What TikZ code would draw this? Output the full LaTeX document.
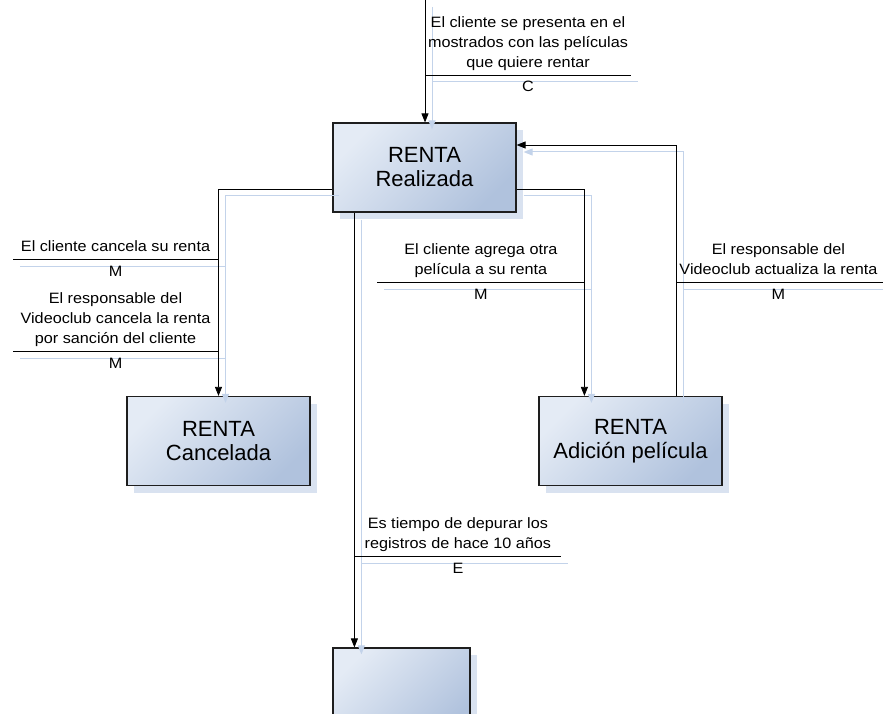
\documentclass[tikz,border=0pt]{standalone}
\usepackage{fontspec}
\setmainfont{Liberation Sans}
\newfontfamily\lblfont[FakeStretch=1.08]{Liberation Sans}
\usetikzlibrary{arrows.meta,calc,shadows}

\definecolor{boxlight}{HTML}{E4EBF5}
\definecolor{boxdark}{HTML}{B0C2DD}
\definecolor{shadowblue}{HTML}{D9E2F0}
\definecolor{shadowline}{HTML}{C3D3EA}
\definecolor{boxedge}{HTML}{1E1E1E}

\tikzset{
  statebox/.style={draw=boxedge, line width=1.2pt, minimum width=183pt,
    minimum height=89pt, inner sep=0pt, top color=boxlight,
    bottom color=boxdark, shading angle=45, align=center,
    font=\fontsize{22}{24}\selectfont,
    general shadow={fill=shadowblue, shadow xshift=7pt, shadow yshift=-7pt}},
  flow/.style={line width=0.8pt, -{Triangle[length=9pt,width=7pt]}},
  flowshadow/.style={draw=shadowline, line width=1pt,
    -{Triangle[length=9pt,width=7pt]}, transform canvas={shift={(7,7)}}},
  bar/.style={line width=0.8pt},
  barshadow/.style={draw=shadowline, line width=1pt,
    transform canvas={shift={(7,7)}}},
  evtext/.style={anchor=south, inner sep=0pt, text depth=0pt, align=center,
    font=\lblfont\fontsize{15}{20}\selectfont},
  evcode/.style={anchor=base, inner sep=0pt,
    font=\lblfont\fontsize{15}{20}\selectfont},
}

\begin{document}
\begin{tikzpicture}[x=1pt,y=-1pt]
  \clip (0,0) rectangle (883,714);
  \fill[white] (0,0) rectangle (883,714);

  % states
  \node[statebox] (R) at (424.5,167.5) {RENTA\\Realizada};
  \node[statebox] (C) at (218.5,441) {RENTA\\Cancelada};
  \node[statebox] (A) at (630.5,441) {RENTA\\Adición película};
  \node[statebox, minimum width=137pt] (B) at (401.5,692.5) {};

  % connector end points and event bars
  \coordinate (in) at (425,0);
  \coordinate (rl) at (R.west |- 0,189);
  \coordinate (rr) at (R.east |- 0,189);
  \coordinate (addin) at ($(A.north west)+(46,0)$);
  \coordinate (upd) at ($(A.north west)+(138,0)$);
  \coordinate (back) at (R.east |- 0,145);
  \coordinate (purge) at ($(R.south west)+(22,0)$);
  \coordinate (purgein) at ($(B.north west)+(22,0)$);

  \coordinate (bt) at (in |- 0,75);
  \coordinate (bl1) at (C.north |- 0,259);
  \coordinate (bl2) at (C.north |- 0,351);
  \coordinate (br1) at (addin |- 0,282);
  \coordinate (br2) at (upd |- 0,282);
  \coordinate (bb) at (purge |- 0,556);

  % shadows of connectors and bars
  \draw[flowshadow] (in) -- (in |- R.north);
  \draw[flowshadow] (rl) -| (C.north);
  \draw[flowshadow] (rr) -| (addin);
  \draw[flowshadow] (upd) |- (back);
  \draw[flowshadow] (purge) -- (purgein);
  \draw[barshadow] (bt) -- ++(206,0);
  \draw[barshadow] (bl1) -- ++(-206,0);
  \draw[barshadow] (bl2) -- ++(-206,0);
  \draw[barshadow] (br1) -- ++(-207,0);
  \draw[barshadow] (br2) -- ++(210,0);
  \draw[barshadow] (bb) -- ++(207,0);

  % connectors
  \draw[flow] (in) -- (in |- R.north);
  \draw[flow] (rl) -| (C.north);
  \draw[flow] (rr) -| (addin);
  \draw[flow] (upd) |- (back);
  \draw[flow] (purge) -- (purgein);

  % event bars
  \draw[bar] (bt) -- ++(206,0);
  \draw[bar] (bl1) -- ++(-206,0);
  \draw[bar] (bl2) -- ++(-206,0);
  \draw[bar] (br1) -- ++(-207,0);
  \draw[bar] (br2) -- ++(210,0);
  \draw[bar] (bb) -- ++(207,0);

  % event labels
  \node[evtext] (tt) at ($(bt)+(103,-7)$) {El cliente se presenta en el\\mostrados con las películas\\que quiere rentar};
  \node[evcode] (tc) at ($(bt)+(103,17)$) {C};

  \node[evtext] (l1t) at ($(bl1)+(-103,-7)$) {El cliente cancela su renta};
  \node[evcode] (l1c) at ($(bl1)+(-103,17)$) {M};

  \node[evtext] (l2t) at ($(bl2)+(-103,-7)$) {El responsable del\\Videoclub cancela la renta\\por sanción del cliente};
  \node[evcode] (l2c) at ($(bl2)+(-103,17)$) {M};

  \node[evtext] (r1t) at ($(br1)+(-103.5,-7)$) {El cliente agrega otra\\película a su renta};
  \node[evcode] (r1c) at ($(br1)+(-103.5,17)$) {M};

  \node[evtext] (r2t) at ($(br2)+(102,-7)$) {El responsable del\\Videoclub actualiza la renta};
  \node[evcode] (r2c) at ($(br2)+(102,17)$) {M};

  \node[evtext] (bt2) at ($(bb)+(103.5,-7)$) {Es tiempo de depurar los\\registros de hace 10 años};
  \node[evcode] (bc) at ($(bb)+(103.5,17)$) {E};
\end{tikzpicture}
\end{document}
